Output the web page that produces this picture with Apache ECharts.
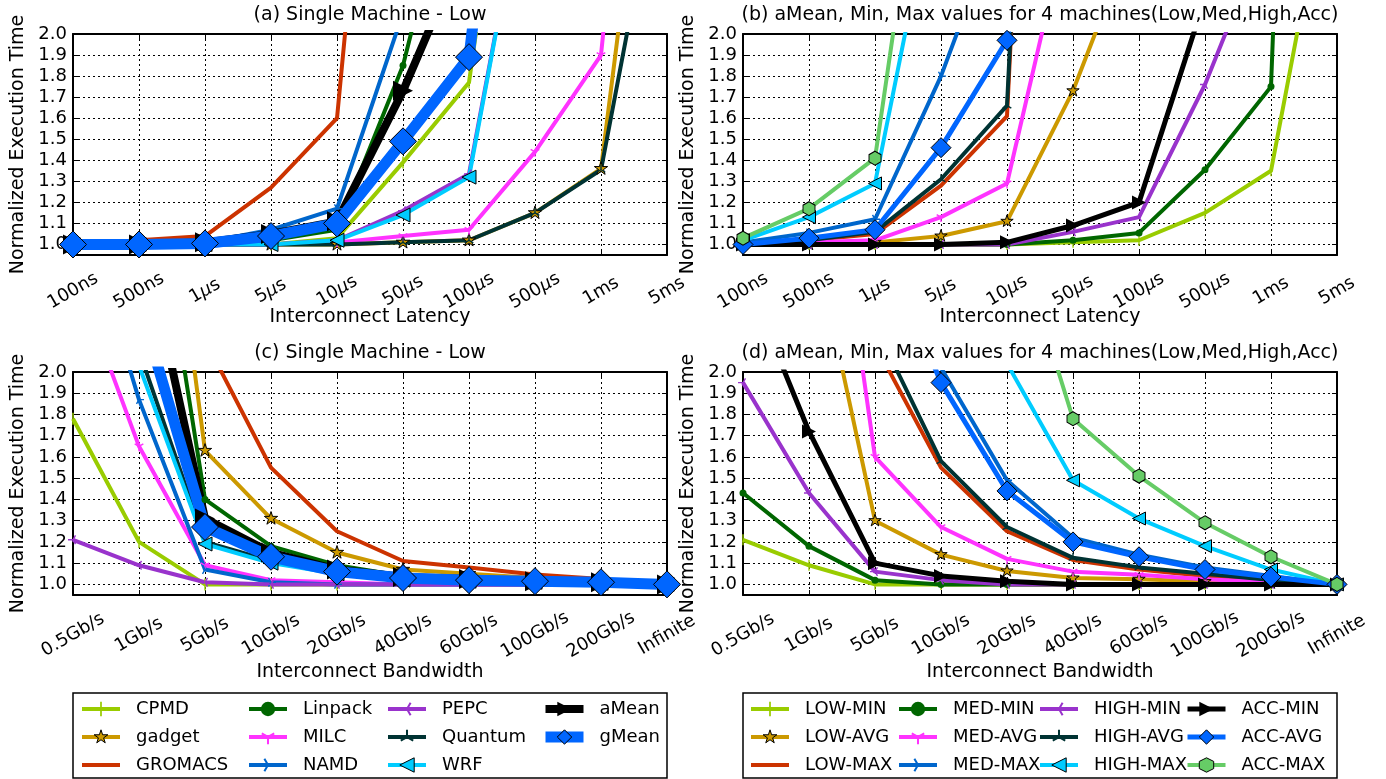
<!DOCTYPE html>
<html>
<head>
<meta charset="utf-8">
<script src="https://cdn.jsdelivr.net/npm/echarts@6/dist/echarts.min.js"></script>
<style>
html, body { margin: 0; padding: 0; background: #fff; }
#box { width: 1386px; height: 779px; }
</style>
</head>
<body>
<div id="box"></div>
<script>
// categories
var latency = ['100ns', '500ns', '1μs', '5μs', '10μs', '50μs', '100μs', '500μs', '1ms', '5ms'];
var bandwidth = ['0.5Gb/s', '1Gb/s', '5Gb/s', '10Gb/s', '20Gb/s', '40Gb/s', '60Gb/s', '100Gb/s', '200Gb/s', 'Infinite'];
var yTicks = [1.0, 1.1, 1.2, 1.3, 1.4, 1.5, 1.6, 1.7, 1.8, 1.9, 2.0];

var appNames = ['CPMD', 'gadget', 'GROMACS', 'Linpack', 'MILC', 'NAMD', 'PEPC', 'Quantum', 'WRF', 'aMean', 'gMean'];
var machNames = ['LOW-MIN', 'LOW-AVG', 'LOW-MAX', 'MED-MIN', 'MED-AVG', 'MED-MAX', 'HIGH-MIN', 'HIGH-AVG', 'HIGH-MAX', 'ACC-MIN', 'ACC-AVG', 'ACC-MAX'];

// (a) latency, single machine - low
var cpmdA    = [1.0, 1.0, 1.0, 1.0, 1.03, 1.39, 1.77, 4.0, null, null];
var gadgetA  = [1.0, 1.0, 1.0, 1.0, 1.0, 1.01, 1.02, 1.15, 1.36, 3.85];
var gromacsA = [1.0, 1.02, 1.04, 1.27, 1.60, 4.9, null, null, null, null];
var linpackA = [1.0, 1.0, 1.0, 1.02, 1.07, 1.85, 3.1, null, null, null];
var milcA    = [1.0, 1.0, 1.0, 1.0, 1.01, 1.04, 1.07, 1.44, 1.90, 5.0];
var namdA    = [1.0, 1.0, 1.01, 1.07, 1.17, 2.1, null, null, null, null];
var pepcA    = [1.0, 1.0, 1.0, 1.0, 1.02, 1.16, 1.335, 3.0, null, null];
var quantumA = [1.0, 1.0, 1.0, 1.0, 1.0, 1.01, 1.02, 1.15, 1.355, 3.0];
var wrfA     = [1.0, 1.0, 1.0, 1.0, 1.02, 1.14, 1.32, 3.0, null, null];
var ameanA   = [1.0, 1.0, 1.01, 1.05, 1.11, 1.73, 2.46, null, null, null];
var gmeanA   = [1.0, 1.0, 1.005, 1.04, 1.10, 1.49, 1.89, 4.5, null, null];

// (b) latency, 4 machines
var lowMinB  = [1.0, 1.0, 1.0, 1.0, 1.0, 1.01, 1.02, 1.15, 1.35, 3.0];
var lowAvgB  = [1.0, 1.0, 1.01, 1.04, 1.11, 1.73, 2.54, null, null, null];
var lowMaxB  = [1.0, 1.02, 1.05, 1.28, 1.61, 8.0, null, null, null, null];
var medMinB  = [1.0, 1.0, 1.0, 1.0, 1.0, 1.02, 1.055, 1.355, 1.75, 10.0];
var medAvgB  = [1.0, 1.01, 1.02, 1.13, 1.29, 2.64, null, null, null, null];
var medMaxB  = [1.01, 1.055, 1.12, 1.80, 2.64, null, null, null, null, null];
var highMinB = [1.0, 1.0, 1.0, 1.0, 1.0, 1.06, 1.13, 1.76, 2.54, null];
var highAvgB = [1.0, 1.02, 1.06, 1.31, 1.66, 8.0, null, null, null, null];
var highMaxB = [1.02, 1.13, 1.29, 2.85, null, null, null, null, null, null];
var accMinB  = [1.0, 1.0, 1.0, 1.0, 1.01, 1.09, 1.20, 2.17, null, null];
var accAvgB  = [1.0, 1.03, 1.07, 1.46, 1.97, 4.0, null, null, null, null];
var accMaxB  = [1.03, 1.17, 1.41, 3.57, null, null, null, null, null, null];

// (c) bandwidth, single machine - low
var cpmdC    = [1.78, 1.20, 1.0, 1.0, 1.0, 1.0, 1.0, 1.0, 1.0, 1.0];
var gadgetC  = [null, 4.0, 1.63, 1.31, 1.15, 1.07, 1.05, 1.03, 1.015, 1.0];
var gromacsC = [null, null, 2.15, 1.55, 1.25, 1.11, 1.08, 1.047, 1.025, 1.0];
var linpackC = [null, 3.36, 1.40, 1.18, 1.09, 1.04, 1.02, 1.01, 1.005, 1.0];
var milcC    = [2.49, 1.65, 1.09, 1.02, 1.01, 1.0, 1.0, 1.0, 1.0, 1.0];
var namdC    = [2.9, 1.87, 1.07, 1.01, 1.0, 1.0, 1.0, 1.0, 1.0, 1.0];
var pepcC    = [1.21, 1.09, 1.01, 1.0, 1.0, 1.0, 1.0, 1.0, 1.0, 1.0];
var quantumC = [null, 2.1, 1.20, 1.11, 1.06, 1.03, 1.02, 1.01, 1.005, 1.0];
var wrfC     = [null, 2.03, 1.19, 1.10, 1.05, 1.02, 1.015, 1.01, 1.005, 1.0];
var ameanC   = [null, 2.73, 1.31, 1.15, 1.07, 1.035, 1.025, 1.015, 1.01, 1.0];
var gmeanC   = [null, 2.33, 1.27, 1.13, 1.06, 1.03, 1.02, 1.015, 1.01, 1.0];

// (d) bandwidth, 4 machines
var lowMinD  = [1.21, 1.09, 1.0, 1.0, 1.0, 1.0, 1.0, 1.0, 1.0, 1.0];
var lowAvgD  = [null, 2.74, 1.30, 1.14, 1.063, 1.03, 1.024, 1.013, 1.006, 1.0];
var lowMaxD  = [null, null, 2.13, 1.55, 1.25, 1.115, 1.07, 1.04, 1.02, 1.0];
var medMinD  = [1.43, 1.18, 1.02, 1.0, 1.0, 1.0, 1.0, 1.0, 1.0, 1.0];
var medAvgD  = [null, 3.8, 1.60, 1.27, 1.12, 1.06, 1.045, 1.024, 1.01, 1.0];
var medMaxD  = [null, null, 3.0, 2.02, 1.49, 1.22, 1.14, 1.08, 1.04, 1.0];
var highMinD = [1.95, 1.43, 1.06, 1.02, 1.0, 1.0, 1.0, 1.0, 1.0, 1.0];
var highAvgD = [null, null, 2.22, 1.58, 1.27, 1.125, 1.08, 1.05, 1.02, 1.0];
var highMaxD = [null, null, null, null, 2.04, 1.49, 1.31, 1.18, 1.07, 1.0];
var accMinD  = [2.48, 1.72, 1.10, 1.04, 1.015, 1.0, 1.0, 1.0, 1.0, 1.0];
var accAvgD  = [null, null, 2.7, 1.95, 1.44, 1.20, 1.13, 1.07, 1.035, 1.0];
var accMaxD  = [null, null, null, null, 2.78, 1.78, 1.51, 1.29, 1.13, 1.0];

var dataA = [cpmdA, gadgetA, gromacsA, linpackA, milcA, namdA, pepcA, quantumA, wrfA, ameanA, gmeanA];
var dataB = [lowMinB, lowAvgB, lowMaxB, medMinB, medAvgB, medMaxB, highMinB, highAvgB, highMaxB, accMinB, accAvgB, accMaxB];
var dataC = [cpmdC, gadgetC, gromacsC, linpackC, milcC, namdC, pepcC, quantumC, wrfC, ameanC, gmeanC];
var dataD = [lowMinD, lowAvgD, lowMaxD, medMinD, medAvgD, medMaxD, highMinD, highAvgD, highMaxD, accMinD, accAvgD, accMaxD];

var FONT = 'DejaVu Sans';

// marker shapes (matplotlib-like)
function arms(angles) {
  var t = 7, L = 50, s = '';
  angles.forEach(function (a) {
    var r = a * Math.PI / 180, dx = Math.cos(r), dy = Math.sin(r);
    var px = -dy * t, py = dx * t;
    var pts = [[50 + px, 50 + py], [50 + dx * L + px, 50 + dy * L + py],
               [50 + dx * L - px, 50 + dy * L - py], [50 - px, 50 - py]];
    s += 'M' + pts.map(function (p) { return p[0].toFixed(1) + ',' + p[1].toFixed(1); }).join(' L') + ' Z ';
  });
  return 'path://' + s + 'M0,0 L0,0 M100,100 L100,100';
}
var VBAR = 'path://M44,0 L56,0 L56,100 L44,100 Z M0,50 L0,50 M100,50 L100,50';
var STAR = 'path://M50,0 L61.23,34.55 L97.55,34.55 L68.17,55.9 L79.39,90.45 L50,69.1 L20.61,90.45 L31.83,55.9 L2.45,34.55 L38.77,34.55 Z M0,50 L0,50 M100,100 L100,100';
var NOMARK = 'path://M0,0 L0,0';
var TRI_L = 'path://M0,50 L100,0 L100,100 Z';
var TRI_R = 'path://M100,50 L0,0 L0,100 Z';
var HEX = 'path://M50,0 L93.3,25 L93.3,75 L50,100 L6.7,75 L6.7,25 Z';
var TRI_DOWN = arms([90, 210, 330]);
var TRI_UP = arms([270, 30, 150]);
var TRI_LEFT = arms([180, 60, 300]);
var TRI_RIGHT = arms([0, 120, 240]);

var looks = [
  { color: '#99CC00', symbol: VBAR, size: 12 },
  { color: '#CC9900', symbol: STAR, size: 14, edge: true },
  { color: '#CC3300', symbol: NOMARK, size: 1, bar: true },
  { color: '#006600', symbol: 'circle', size: 7 },
  { color: '#FF33FF', symbol: TRI_DOWN, size: 10 },
  { color: '#0066CC', symbol: TRI_RIGHT, size: 10 },
  { color: '#9933CC', symbol: TRI_LEFT, size: 10 },
  { color: '#003333', symbol: TRI_UP, size: 10 },
  { color: '#00CCFF', symbol: TRI_L, size: 14, edge: true },
  { color: '#000000', symbol: TRI_R, size: 20 },
  { color: '#0066FF', symbol: 'diamond', size: 27, edge: true },
  { color: '#66CC66', symbol: HEX, size: [12, 14], edge: true }
];
var widthsLeft = [4, 4, 4, 4, 4, 4, 4, 4, 4, 8, 11];
var widthsRight = [4, 4, 4, 4, 4, 4, 4, 4, 4, 5, 5, 4];
var sizesRight = [11, 13, 1, 7, 10, 10, 10, 10, 13, 14, 20, [12, 14]];

var grids = [
  { left: 73, top: 34, width: 594, height: 221 },
  { left: 743, top: 34, width: 594, height: 221 },
  { left: 73, top: 372, width: 594, height: 223 },
  { left: 743, top: 372, width: 594, height: 223 }
];
grids.forEach(function (g) { g.outerBoundsMode = 'none'; g.containLabel = false; });

function labelFmt(v) {
  return v.indexOf('μ') >= 0 ? v.replace('μ', '{m|μ}') : v;
}

function xAxisFor(gi, cats, pos, title, gap, margin) {
  var bottom = pos === 'bottom';
  return {
    type: 'category', gridIndex: gi, position: pos, data: cats, boundaryGap: false,
    axisLine: { show: true, onZero: false, lineStyle: { color: '#000', width: 2 } },
    axisTick: { show: true, inside: true, length: 5, interval: 0, lineStyle: { color: '#000', width: 1 } },
    axisLabel: {
      show: bottom, interval: 0, rotate: 30, align: 'center', verticalAlign: 'middle', margin: margin,
      fontSize: 18, fontFamily: FONT, color: '#000', formatter: labelFmt,
      rich: { m: { fontStyle: 'italic', fontSize: 18, fontFamily: FONT, color: '#000' } }
    },
    splitLine: { show: bottom, interval: 0, lineStyle: { color: '#000', type: [2, 3], width: 1 } },
    name: bottom ? title : '', nameLocation: 'middle', nameGap: gap, nameMoveOverlap: false,
    nameTextStyle: { fontSize: 19, fontFamily: FONT, color: '#000' }
  };
}

function yAxisFor(gi, pos) {
  var left = pos === 'left';
  return {
    type: 'value', gridIndex: gi, position: pos, min: 0.95, max: 2.0,
    axisLine: { show: true, onZero: false, lineStyle: { color: '#000', width: 2 } },
    axisTick: { show: true, inside: true, length: 5, customValues: yTicks, lineStyle: { color: '#000', width: 1 } },
    axisLabel: {
      show: left, customValues: yTicks, margin: 6, fontSize: 18, fontFamily: FONT, color: '#000',
      formatter: function (v) { return v.toFixed(1); }
    },
    splitLine: { show: left, lineStyle: { color: '#000', type: [2, 3], width: 1 } },
    name: left ? 'Normalized Execution Time' : '', nameLocation: 'middle', nameGap: 45, nameMoveOverlap: false,
    nameTextStyle: { fontSize: 19, fontFamily: FONT, color: '#000' }
  };
}

var xAxes = [
  xAxisFor(0, latency, 'bottom', 'Interconnect Latency', 53, 36),
  xAxisFor(1, latency, 'bottom', 'Interconnect Latency', 53, 36),
  xAxisFor(2, bandwidth, 'bottom', 'Interconnect Bandwidth', 68, 40),
  xAxisFor(3, bandwidth, 'bottom', 'Interconnect Bandwidth', 68, 40),
  xAxisFor(0, latency, 'top'), xAxisFor(1, latency, 'top'),
  xAxisFor(2, bandwidth, 'top'), xAxisFor(3, bandwidth, 'top')
];
var yAxes = [
  yAxisFor(0, 'left'), yAxisFor(1, 'left'), yAxisFor(2, 'left'), yAxisFor(3, 'left'),
  yAxisFor(0, 'right'), yAxisFor(1, 'right'), yAxisFor(2, 'right'), yAxisFor(3, 'right')
];

function makeSeries(names, data, gi, widths, sizes) {
  return names.map(function (n, i) {
    var lk = looks[i];
    return {
      type: 'line', name: n, data: data[i], xAxisIndex: gi, yAxisIndex: gi,
      symbol: lk.symbol, symbolSize: sizes ? sizes[i] : lk.size, showSymbol: true,
      clip: true, connectNulls: false, animation: false,
      lineStyle: { color: lk.color, width: widths[i], join: 'round', cap: 'butt' },
      itemStyle: { color: lk.color, borderColor: '#000', borderWidth: lk.edge ? 1 : 0 },
      emphasis: { disabled: true }
    };
  });
}

var series = [].concat(
  makeSeries(appNames, dataA, 0, widthsLeft),
  makeSeries(machNames, dataB, 1, widthsRight, sizesRight),
  makeSeries(appNames, dataC, 2, widthsLeft),
  makeSeries(machNames, dataD, 3, widthsRight, sizesRight)
);

function legendItem(n, i) {
  var lk = looks[i];
  var it = { name: n };
  if (lk.bar) it.icon = 'path://M0,0 L38,0 L38,4 L0,4 Z';
  if (lk.edge) it.itemStyle = { borderColor: '#000', borderWidth: 1 };
  return it;
}
function legendCol(names, idxs, left) {
  return {
    orient: 'vertical', left: left, top: 700, padding: 0, itemGap: 10,
    itemWidth: 38, itemHeight: 18, selectedMode: false, symbolKeepAspect: true,
    data: idxs.map(function (i) { return legendItem(names[i], i); }),
    itemStyle: { borderWidth: 0 },
    lineStyle: { width: 'inherit' },
    formatter: function (n) { return '{t|' + n + '}'; },
    textStyle: {
      fontSize: 18, fontFamily: FONT, color: '#000',
      rich: { t: { fontSize: 18, fontFamily: FONT, color: '#000', padding: [0, 0, 0, 11] } }
    }
  };
}
var legends = [
  legendCol(appNames, [0, 1, 2], 80),
  legendCol(appNames, [3, 4, 5], 247),
  legendCol(appNames, [6, 7, 8], 386),
  legendCol(appNames, [9, 10], 540),
  legendCol(machNames, [0, 1, 2], 749),
  legendCol(machNames, [3, 4, 5], 897),
  legendCol(machNames, [6, 7, 8], 1038),
  legendCol(machNames, [9, 10, 11], 1185)
];

function titleAt(text, x, y) {
  return { text: text, left: x, top: y, textAlign: 'center', padding: 0,
    textStyle: { fontSize: 19, fontWeight: 'normal', fontFamily: FONT, color: '#000' } };
}

var option = {
  animation: false,
  backgroundColor: '#fff',
  title: [
    titleAt('(a) Single Machine - Low', 370, 6),
    titleAt('(b) aMean, Min, Max values for 4 machines(Low,Med,High,Acc)', 1040, 6),
    titleAt('(c) Single Machine - Low', 370, 344),
    titleAt('(d) aMean, Min, Max values for 4 machines(Low,Med,High,Acc)', 1040, 344)
  ],
  grid: grids,
  xAxis: xAxes,
  yAxis: yAxes,
  legend: legends,
  series: series,
  graphic: [
    { type: 'rect', shape: { x: 73, y: 693, width: 594, height: 85 }, style: { fill: 'none', stroke: '#000', lineWidth: 1.5 }, z: 10 },
    { type: 'rect', shape: { x: 743, y: 693, width: 594, height: 85 }, style: { fill: 'none', stroke: '#000', lineWidth: 1.5 }, z: 10 }
  ]
};

var myChart = echarts.init(document.getElementById('box'), null, { renderer: 'canvas' });
myChart.setOption(option);
</script>
</body>
</html>
